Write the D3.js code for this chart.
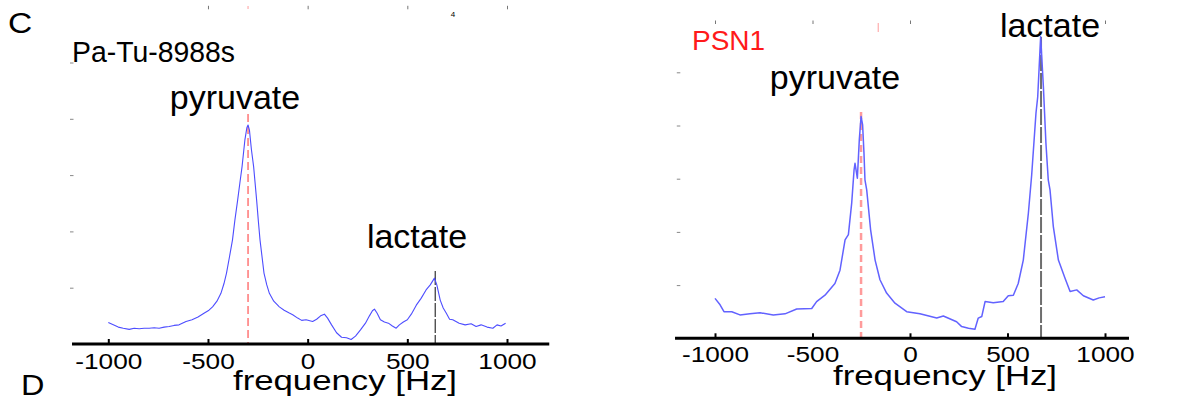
<!DOCTYPE html>
<html><head><meta charset="utf-8">
<script src="https://cdn.jsdelivr.net/npm/d3@7/dist/d3.min.js"></script>
<style>body{margin:0;background:#fff}svg{display:block}text{font-family:"Liberation Sans",Arial,Helvetica,sans-serif}</style>
</head><body><svg id="c" width="1184" height="400"></svg>
<script>
// ---- data ----
const freqTicks = [-1000, -500, 0, 500, 1000];
const intensityTicks = [1, 2, 3, 4, 5];
const panelNames = ["Pa-Tu-8988s", "PSN1"];
const peakNames = ["pyruvate", "lactate"];
const axisTitle = "frequency [Hz]";
// Pa-Tu-8988s spectrum (Hz, intensity a.u.)
const leftFreq = [-1000,-975,-950,-925,-895,-870,-845,-820,-795,-770,-745,-720,-695,-670,-645,-610,-580,-550,-518,-495,-477,-455,-435,-420,-407,-392,-377,-365,-351,-340,-329,-315,-305,-299,-292,-282,-271,-256,-247,-239,-219,-205,-192,-170,-142,-118,-92,-75,-50,-30,-8,25,45,65,84,100,120,145,170,195,218,240,265,290,310,325,335,348,365,385,405,425,444,460,480,500,520,545,569,594,615,636,648,665,680,695,712,728,760,790,820,845,870,900,929,950,970,993];
const leftInt  = [0.38,0.34,0.30,0.28,0.26,0.28,0.27,0.28,0.28,0.29,0.28,0.30,0.31,0.33,0.34,0.40,0.43,0.48,0.55,0.60,0.66,0.76,0.90,1.07,1.26,1.55,1.85,2.20,2.56,2.86,3.15,3.62,3.84,3.89,3.80,3.45,3.15,2.56,2.17,1.85,1.26,1.05,0.90,0.76,0.66,0.60,0.55,0.52,0.46,0.42,0.43,0.40,0.44,0.50,0.53,0.46,0.34,0.20,0.12,0.11,0.08,0.14,0.25,0.37,0.50,0.59,0.62,0.55,0.43,0.39,0.37,0.32,0.28,0.34,0.39,0.43,0.53,0.69,0.81,0.96,1.05,1.17,1.05,0.78,0.64,0.55,0.44,0.43,0.37,0.34,0.36,0.31,0.34,0.30,0.28,0.34,0.32,0.37];
// PSN1 spectrum (Hz, intensity a.u.)
const rightFreq = [-1000,-974,-954,-914,-872,-821,-769,-701,-641,-581,-504,-479,-436,-385,-359,-333,-316,-299,-287,-282,-270,-260,-251,-243,-236,-231,-222,-202,-179,-154,-120,-77,-17,51,137,171,239,265,300,333,350,368,385,427,478,504,530,555,581,607,624,646,655,670,684,697,709,718,735,761,795,821,855,889,940,970,1000];
const rightInt  = [0.75,0.63,0.50,0.50,0.44,0.46,0.48,0.44,0.46,0.55,0.56,0.69,0.81,1.03,1.28,1.85,1.95,2.54,3.16,3.29,3.01,3.73,4.17,4.01,3.48,2.98,2.79,2.04,1.47,1.10,0.85,0.66,0.50,0.46,0.38,0.42,0.31,0.22,0.19,0.17,0.38,0.41,0.69,0.67,0.69,0.80,0.81,1.03,1.47,2.35,3.07,4.23,4.54,5.67,4.73,3.67,2.98,2.79,2.10,1.47,1.13,0.88,0.91,0.80,0.72,0.76,0.78];
const leftMarkers  = [-299, 640];   // pyruvate, lactate
const rightMarkers = [-251, 672];

// ---- drawing ----
const svg = d3.select("#c");

function txt(parent, s, x, y, size, opt = {}) {
  const t = parent.append("text")
    .attr("transform", `translate(${x},${y}) scale(${opt.sx || 1},1)`)
    .attr("font-size", size).attr("fill", opt.fill || "#000")
    .attr("text-anchor", opt.anchor || "start").text(s);
  if (opt.len) t.attr("textLength", opt.len).attr("lengthAdjust", "spacingAndGlyphs");
  return t;
}

function panel(cfg){
  const g = svg.append("g");
  const x = d3.scaleLinear().domain([-1000,1000]).range(cfg.xr);
  const y = d3.scaleLinear().domain([0,5]).range(cfg.yr);
  // top ticks
  const top = g.append("g").attr("transform",`translate(0,${cfg.topY})`)
    .call(d3.axisTop(x).tickValues(cfg.topTicks).tickSize(3.5).tickFormat(""));
  top.select(".domain").remove();
  top.selectAll("line").attr("stroke","#777").attr("stroke-width",1);
  // left ticks
  const la = g.append("g").attr("transform",`translate(${cfg.yAxisX},0)`)
    .call(d3.axisLeft(y).tickValues(intensityTicks).tickSize(3.5).tickFormat(""));
  la.select(".domain").remove();
  la.selectAll("line").attr("stroke","#888").attr("stroke-width",1);
  // markers
  const m = cfg.markers;
  g.append("line").attr("x1",x(m[0])).attr("x2",x(m[0])).attr("y1",cfg.m0top).attr("y2",y(0))
    .attr("stroke",cfg.m0col).attr("stroke-width",cfg.m0w).attr("stroke-dasharray",cfg.m0dash);
  g.append("line").attr("x1",x(m[1])).attr("x2",x(m[1])).attr("y1",cfg.m1top).attr("y2",y(0))
    .attr("stroke",cfg.m1col).attr("stroke-width",cfg.m1w).attr("stroke-dasharray",cfg.m1dash);
  // spectrum
  const pts = cfg.f.map((f,i)=>[f,cfg.v[i]]);
  g.append("path").datum(pts)
    .attr("d", d3.line().x(d=>x(d[0])).y(d=>y(d[1])))
    .attr("fill","none").attr("stroke",cfg.lineCol).attr("stroke-width",cfg.lineW).attr("stroke-linejoin","round");
  // x axis
  const ax = g.append("g").attr("transform",`translate(0,${y(0)})`)
    .call(d3.axisBottom(x).tickValues(freqTicks).tickSize(-5).tickFormat(d => String(d)));
  ax.select(".domain").remove();
  ax.selectAll("line").attr("stroke","#000").attr("stroke-width",2);
  ax.selectAll("text").attr("font-size",21.5).attr("fill","#000").attr("dy",null)
    .attr("y",null).attr("transform",`translate(0,${cfg.lblOff}) scale(1.22,1)`)
    .attr("font-family",'"Liberation Sans",Arial,sans-serif');
  g.append("line").attr("x1",x(cfg.axExt[0])).attr("x2",x(cfg.axExt[1]))
    .attr("y1",y(0)).attr("y2",y(0)).attr("stroke","#000").attr("stroke-width",3);
  txt(g, axisTitle, cfg.xlabX, cfg.xlabY, 28.5, {anchor:"middle", sx:1.22});
  // labels
  txt(g, cfg.name, cfg.nameX, cfg.nameY, cfg.nameSize, {fill:cfg.nameCol, len:cfg.nameLen});
  txt(g, peakNames[0], cfg.pyrX, cfg.pyrY, 34, {anchor:"middle"});
  txt(g, peakNames[1], cfg.lacX, cfg.lacY, 34, {anchor:"middle"});
  return {x,y,g};
}

const L = panel({
  xr:[108.3,507], yr:[344,62.5], topY:9.3, topTicks:[-500,0,500,1000], yAxisX:73.5,
  markers:leftMarkers, m0top:114, m0col:"rgba(255,70,70,0.85)", m0w:1.3, m0dash:"8,4",
  m1top:271, m1col:"#333", m1w:1.2, m1dash:"14,2",
  f:leftFreq, v:leftInt, lineCol:"#4d4dff", lineW:1.1, axExt:[-1182,1212], lblOff:25,
  xlabX:345, xlabY:390,
  name:panelNames[0], nameX:72, nameY:62, nameSize:30, nameCol:"#000", nameLen:163,
  pyrX:235, pyrY:109, lacX:417, lacY:248
});
const R = panel({
  xr:[715,1105], yr:[338.3,72.3], topY:24, topTicks:[-1000,-500,0,1000], yAxisX:680.3,
  markers:rightMarkers, m0top:112, m0col:"rgba(255,130,130,0.8)", m0w:2.5, m0dash:"7,4",
  m1top:37, m1col:"rgba(85,85,85,0.85)", m1w:2, m1dash:"16,2",
  f:rightFreq, v:rightInt, lineCol:"#6262ff", lineW:1.5, axExt:[-1205,1123], lblOff:23.4,
  xlabX:945, xlabY:384.5,
  name:panelNames[1], nameX:692, nameY:50, nameSize:28, nameCol:"#ff1a1a", nameLen:null,
  pyrX:835, pyrY:88.5, lacX:1050, lacY:37
});

// small artefacts and panel letters
svg.append("line").attr("x1",L.x(leftMarkers[0])).attr("x2",L.x(leftMarkers[0])).attr("y1",6).attr("y2",9)
  .attr("stroke","rgba(255,90,90,0.6)").attr("stroke-width",1);
txt(svg, "4", 453, 17, 8, {anchor:"middle"});
svg.append("line").attr("x1",R.x(-163)).attr("x2",R.x(-163)).attr("y1",23).attr("y2",32)
  .attr("stroke","rgba(255,90,90,0.6)").attr("stroke-width",1);
txt(svg, "C", 8, 33, 30, {sx:1.12});
txt(svg, "D", 21, 395, 29, {sx:1.12});
</script></body></html>
